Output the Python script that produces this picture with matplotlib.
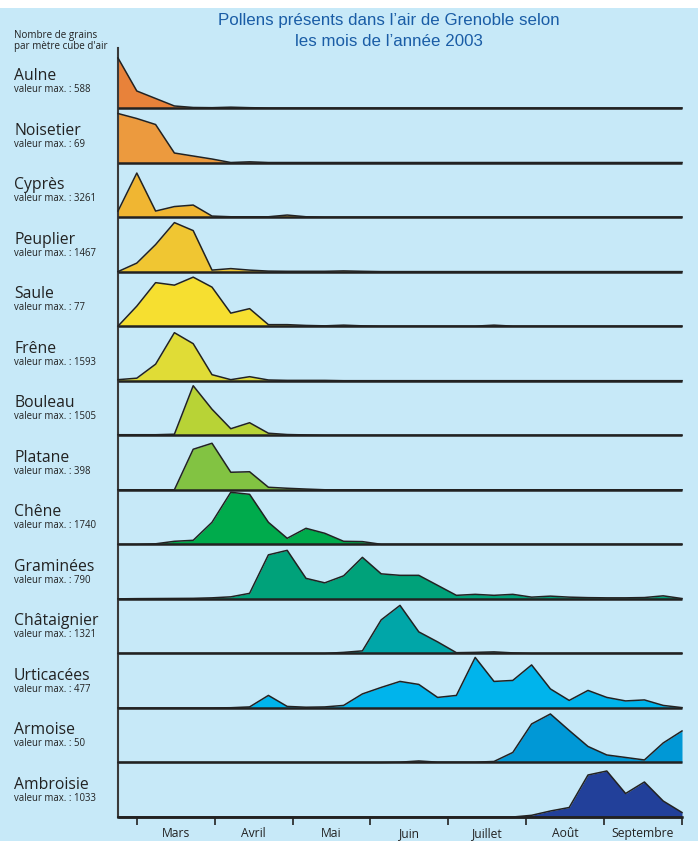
import matplotlib
matplotlib.use('Agg')
import matplotlib.pyplot as plt
import numpy as np

# pollen relevés hebdomadaires, en % de l'échelle de chaque ligne
species = ['Aulne', 'Noisetier', 'Cyprès', 'Peuplier', 'Saule', 'Frêne', 'Bouleau',
           'Platane', 'Chêne', 'Graminées', 'Châtaignier', 'Urticacées', 'Armoise', 'Ambroisie']
max_values = [588, 69, 3261, 1467, 77, 1593, 1505, 398, 1740, 790, 1321, 477, 50, 1033]

aulne = [100, 34, 19, 4, 1, 0.6, 1.6, 0.6] + [0] * 23
noisetier = [98, 88, 76, 19, 13, 7, 0, 1.4] + [0] * 23
cypres = [12, 88, 12, 21, 24, 2, 0.6, 0.6, 0.6, 4, 0.6] + [0] * 20
peuplier = [0, 17, 54, 98, 82, 3, 6, 3, 1, 0.6, 0.6, 0.6, 1.4, 0.6] + [0] * 17
saule = [0, 40, 87, 82, 98, 78, 26, 35, 3, 3, 1.4, 0.6, 2, 0.6, 0, 0, 0, 0, 0, 0, 2] + [0] * 10
frene = [2, 5, 33, 96, 74, 12, 2, 8, 1.4, 0.6, 0.6, 0.6] + [0] * 19
bouleau = [1, 1, 1, 2, 99, 52, 13, 25, 4, 1.4, 0.6] + [0] * 20
platane = [0, 0, 0, 0, 81, 93, 35, 36, 5, 3, 1.4] + [0] * 20
chene = [0, 0, 1, 6, 8, 44, 104, 100, 44, 12, 32, 22, 6, 5.4] + [0] * 17
graminees = [0, 0.4, 0.6, 0.8, 1, 2, 4, 11, 88, 97, 41, 32, 46, 83, 50, 47, 47, 27, 7, 9,
             7, 9, 3.4, 5.4, 3.4, 2.4, 2, 2, 2.6, 6, 0.6]
chataignier = [0] * 12 + [2, 5, 67, 96, 43, 23, 1.4, 2, 3, 1] + [0] * 9
urticacees = [0, 0, 0, 0, 0, 0, 0.4, 2, 25, 3, 1.4, 2, 5, 28, 41, 53, 47, 21, 25, 101,
              53, 55, 86, 38, 15, 35, 21, 14, 16, 5, 0.6]
armoise = [0] * 15 + [0.6, 3, 0.6, 0.6, 0.6, 2, 20, 77, 97, 64, 32, 15, 10, 5, 39, 63]
ambroisie = [0] * 22 + [3.4, 12, 19, 84, 92, 47, 70, 32, 9]

series = [aulne, noisetier, cypres, peuplier, saule, frene, bouleau,
          platane, chene, graminees, chataignier, urticacees, armoise, ambroisie]

fill_colors = ['#e8823a', '#ec9a3e', '#f0b632', '#f0c632', '#f6df30', '#e0dc36', '#b8d336',
               '#82c342', '#00ab4c', '#00a27a', '#00a6a8', '#00b4ec', '#0098d6', '#22409a']

months = ['Mars', 'Avril', 'Mai', 'Juin', 'Juillet', 'Août', 'Septembre']

W, H = 698, 841
BG = '#c7e9f8'
fig = plt.figure(figsize=(W / 100, H / 100), dpi=100, facecolor=BG)
# bande blanche en haut
fig.patches.append(plt.Rectangle((0, 1 - 8 / H), 1, 8 / H, transform=fig.transFigure,
                                 facecolor='white', edgecolor='none'))

ax = fig.add_axes([118 / W, 24 / H, 564 / W, 769 / H])
ax.set_facecolor('none')
ax.set_xlim(0, 30)
ax.set_ylim(0, 769)

x = np.arange(31)
band = 54.54
scale = 50 / 100
n = len(species)
for k, (vals, col) in enumerate(zip(series, fill_colors)):
    base = (n - 1 - k) * band
    y = base + np.array(vals) * scale
    ax.fill_between(x, base, y, color=col, lw=0, zorder=2)
    ax.plot(x, y, color='#222222', lw=1.1, zorder=3, clip_on=False)
    ax.plot([0, 30], [base, base], color='#222222', lw=1.8, zorder=4, clip_on=False,
            solid_capstyle='butt')

for s in ['top', 'right']:
    ax.spines[s].set_visible(False)
ax.spines['left'].set_color('#3a3a3a')
ax.spines['left'].set_linewidth(1.5)
ax.spines['bottom'].set_color('#222222')
ax.spines['bottom'].set_linewidth(1.8)
ax.set_yticks([])

tick_pos = [1 + 29 / 7 * i for i in range(8)]
mid_pos = [(a + b) / 2 for a, b in zip(tick_pos[:-1], tick_pos[1:])]
ax.set_xticks(tick_pos)
ax.set_xticklabels([])
ax.tick_params(axis='x', which='major', direction='out', length=6, width=1.2, color='#222222')
ax.set_xticks(mid_pos, minor=True)
ax.set_xticklabels(months, minor=True, fontsize=8.7, family='Open Sans', color='#222222')
ax.tick_params(axis='x', which='minor', length=0, pad=7)

# libellés à gauche
def fy(py):
    return 1 - py / H

fig.text(14 / W, fy(38), 'Nombre de grains', fontsize=7.1, family='Open Sans',
         color='#222222', va='baseline')
fig.text(14 / W, fy(49), "par mètre cube d'air", fontsize=7.1, family='Open Sans',
         color='#222222', va='baseline')

for k, (name, mv) in enumerate(zip(species, max_values)):
    base_px = 817 - (n - 1 - k) * band
    fig.text(14 / W, fy(base_px - 28), name, fontsize=11.3, family='Open Sans',
             color='#222222', va='baseline')
    fig.text(14 / W, fy(base_px - 16), f'valeur max. : {mv}', fontsize=6.9, family='Open Sans',
             color='#222222', va='baseline')

fig.text(389 / W, fy(25), 'Pollens présents dans l’air de Grenoble selon',
         fontsize=12.2, family='Liberation Sans', color='#1a5da6', ha='center', va='baseline')
fig.text(389 / W, fy(46), 'les mois de l’année 2003',
         fontsize=12.2, family='Liberation Sans', color='#1a5da6', ha='center', va='baseline')

fig.savefig('out.png', dpi=100, facecolor=BG)
